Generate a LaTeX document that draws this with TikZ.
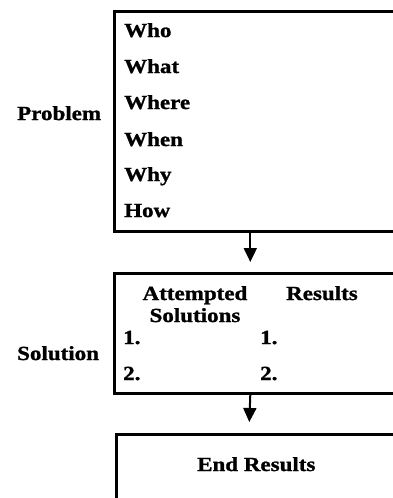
\documentclass[tikz,border=0pt]{standalone}
\usepackage{fontspec}
\setmainfont{Liberation Serif}[FakeStretch=1.15, FakeBold=1.2]
\usetikzlibrary{arrows.meta}

\begin{document}
\begin{tikzpicture}[
  x=1pt, y=-1pt,
  font=\fontsize{20}{22}\selectfont\bfseries,
  frame/.style={draw, line width=2.6pt, inner sep=0pt, anchor=north west},
  lbl/.style={anchor=base west, inner sep=0pt},
  arr/.style={-{Triangle[width=13pt,length=14pt]}, line width=2pt}
]
\useasboundingbox (0,0) rectangle (393,498);
\clip (0,0) rectangle (393,498);
\node[frame, minimum width=280pt, minimum height=220pt] (prob) at (113,10) {};
\node[frame, minimum width=280pt, minimum height=120pt] (sol) at (113,272) {};
\node[frame, minimum width=278pt, minimum height=90pt] (endres) at (115,433) {};
\node[lbl] (problem) at (17,120) {Problem};
\node[lbl] (who) at (124,37) {Who};
\node[lbl] (what) at (124,73) {What};
\node[lbl] (where) at (124,109) {Where};
\node[lbl] (when) at (124,146) {When};
\node[lbl] (why) at (124,181) {Why};
\node[lbl] (how) at (124,217) {How};
\node[lbl] (solution) at (17,360) {Solution};
\node[anchor=base, inner sep=0pt, align=center] (attempted) at (195,322) {Attempted\\Solutions};
\node[lbl] (results) at (286,300) {Results};
\node[lbl] (a1) at (123,344) {1.};
\node[lbl] (a2) at (123,380) {2.};
\node[lbl] (r1) at (260,344) {1.};
\node[lbl] (r2) at (260,380) {2.};
\node[lbl] (endtxt) at (197,471) {End Results};
\draw[arr] ([xshift=-4pt]prob.south) -- ([xshift=-4pt,yshift=10pt]sol.north);
\draw[arr] ([xshift=-4pt]sol.south) -- ([xshift=-6pt,yshift=11pt]endres.north);
\end{tikzpicture}
\end{document}
